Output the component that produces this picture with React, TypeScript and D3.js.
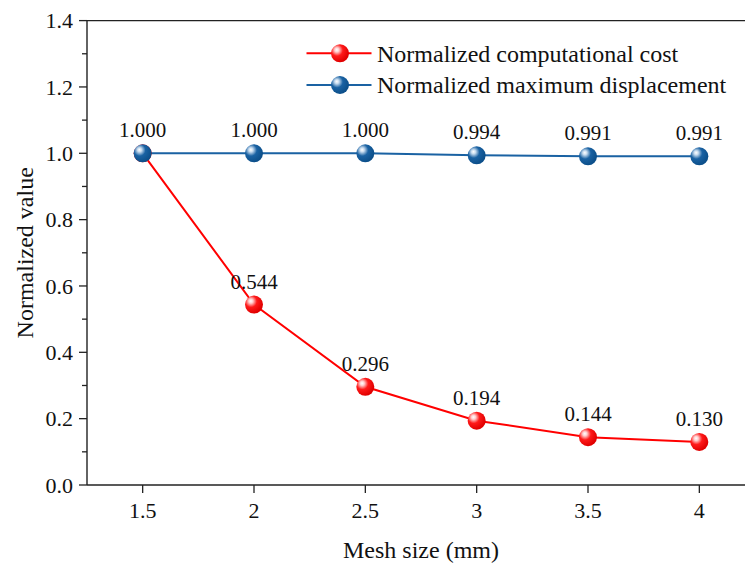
import React, { useEffect, useRef } from "react";
import * as d3 from "d3";

const meshSizes = [1.5, 2, 2.5, 3, 3.5, 4];
const costValues = [1.0, 0.544, 0.296, 0.194, 0.144, 0.13];
const dispValues = [1.0, 1.0, 1.0, 0.994, 0.991, 0.991];
const xTicks = [1.5, 2, 2.5, 3, 3.5, 4];
const yTicks = [0, 0.2, 0.4, 0.6, 0.8, 1.0, 1.2, 1.4];
const yMinorTicks = [0.1, 0.3, 0.5, 0.7, 0.9, 1.1, 1.3];
const seriesNames = ["Normalized computational cost", "Normalized maximum displacement"];

const W = 745;
const H = 563;
const FONT = "'Liberation Serif', 'Times New Roman', serif";

export default function App() {
  const ref = useRef<SVGSVGElement | null>(null);

  useEffect(() => {
    const svg = d3.select(ref.current);
    svg.selectAll("*").remove();

    const left = 87, top = 20.6, bottom = 485;
    const x = d3.scaleLinear().domain([1.25, 4.25]).range([left, left + 668]);
    const y = d3.scaleLinear().domain([0, 1.4]).range([bottom, top]);

    const defs = svg.append("defs");
    const grads = [
      { id: "gRed", light: "#ffd0d0", mid: "#ff1a1a", dark: "#e00000" },
      { id: "gBlue", light: "#c8dcef", mid: "#1a62a3", dark: "#0c4f8a" },
    ];
    grads.forEach((g) => {
      const rg = defs.append("radialGradient").attr("id", g.id)
        .attr("cx", "35%").attr("cy", "35%").attr("r", "65%").attr("fx", "32%").attr("fy", "30%");
      rg.append("stop").attr("offset", "0%").attr("stop-color", "#ffffff");
      rg.append("stop").attr("offset", "18%").attr("stop-color", g.light);
      rg.append("stop").attr("offset", "50%").attr("stop-color", g.mid);
      rg.append("stop").attr("offset", "100%").attr("stop-color", g.dark);
    });

    const axisColor = "#222";
    svg.append("line").attr("x1", left).attr("x2", W + 20).attr("y1", top).attr("y2", top)
      .attr("stroke", axisColor).attr("stroke-width", 1.4);
    svg.append("line").attr("x1", left).attr("x2", W + 20).attr("y1", bottom).attr("y2", bottom)
      .attr("stroke", axisColor).attr("stroke-width", 1.4);
    svg.append("line").attr("x1", left).attr("x2", left).attr("y1", top).attr("y2", bottom)
      .attr("stroke", axisColor).attr("stroke-width", 1.4);

    yTicks.forEach((t) => {
      svg.append("line").attr("x1", left - 8).attr("x2", left).attr("y1", y(t)).attr("y2", y(t))
        .attr("stroke", axisColor).attr("stroke-width", 1.3);
      svg.append("text").attr("x", left - 14).attr("y", y(t)).attr("dy", "0.35em")
        .attr("text-anchor", "end").attr("font-family", FONT).attr("font-size", 22)
        .attr("fill", "#111").text(d3.format(".1f")(t));
    });
    yMinorTicks.forEach((t) => {
      svg.append("line").attr("x1", left - 5).attr("x2", left).attr("y1", y(t)).attr("y2", y(t))
        .attr("stroke", axisColor).attr("stroke-width", 1.3);
    });
    xTicks.forEach((t) => {
      svg.append("line").attr("x1", x(t)).attr("x2", x(t)).attr("y1", bottom).attr("y2", bottom + 8)
        .attr("stroke", axisColor).attr("stroke-width", 1.3);
      svg.append("text").attr("x", x(t)).attr("y", bottom + 33)
        .attr("text-anchor", "middle").attr("font-family", FONT).attr("font-size", 22)
        .attr("fill", "#111").text(String(t));
    });

    svg.append("text").attr("x", (left + x(4.25)) / 2).attr("y", 558)
      .attr("text-anchor", "middle").attr("font-family", FONT).attr("font-size", 24)
      .attr("fill", "#111").text("Mesh size (mm)");
    svg.append("text").attr("transform", `translate(33,${(top + bottom) / 2}) rotate(-90)`)
      .attr("text-anchor", "middle").attr("font-family", FONT).attr("font-size", 24)
      .attr("fill", "#111").text("Normalized value");

    const line = d3.line<[number, number]>().x((d) => x(d[0])).y((d) => y(d[1]));
    const series = [
      { vals: dispValues, color: "#1a62a3", grad: "gBlue", skipFirstLabel: false },
      { vals: costValues, color: "#ff0000", grad: "gRed", skipFirstLabel: true },
    ];
    series.forEach((s) => {
      svg.append("path").datum(meshSizes.map((m, i) => [m, s.vals[i]] as [number, number]))
        .attr("d", line).attr("fill", "none").attr("stroke", s.color).attr("stroke-width", 2);
    });
    [series[1], series[0]].forEach((s) => {
      meshSizes.forEach((m, i) => {
        svg.append("circle").attr("cx", x(m)).attr("cy", y(s.vals[i])).attr("r", 9)
          .attr("fill", `url(#${s.grad})`);
      });
    });
    series.forEach((s) => {
      meshSizes.forEach((m, i) => {
        if (s.skipFirstLabel && i === 0) return;
        svg.append("text").attr("x", x(m)).attr("y", y(s.vals[i]) - 16)
          .attr("text-anchor", "middle").attr("font-family", FONT).attr("font-size", 21)
          .attr("fill", "#111").text(d3.format(".3f")(s.vals[i]));
      });
    });

    const legendItems = [
      { name: seriesNames[0], color: "#ff0000", grad: "gRed", yy: 53.3 },
      { name: seriesNames[1], color: "#1a62a3", grad: "gBlue", yy: 85 },
    ];
    legendItems.forEach((it) => {
      svg.append("line").attr("x1", 306.5).attr("x2", 371.5).attr("y1", it.yy).attr("y2", it.yy)
        .attr("stroke", it.color).attr("stroke-width", 2);
      svg.append("circle").attr("cx", 340).attr("cy", it.yy).attr("r", 9)
        .attr("fill", `url(#${it.grad})`);
      svg.append("text").attr("x", 377).attr("y", it.yy).attr("dy", "0.35em")
        .attr("font-family", FONT).attr("font-size", 24).attr("fill", "#111").text(it.name);
    });
  }, []);

  return (
    <svg ref={ref} width={W} height={H}
      style={{ position: "absolute", left: 0, top: 0, background: "#fff", overflow: "hidden" }} />
  );
}
